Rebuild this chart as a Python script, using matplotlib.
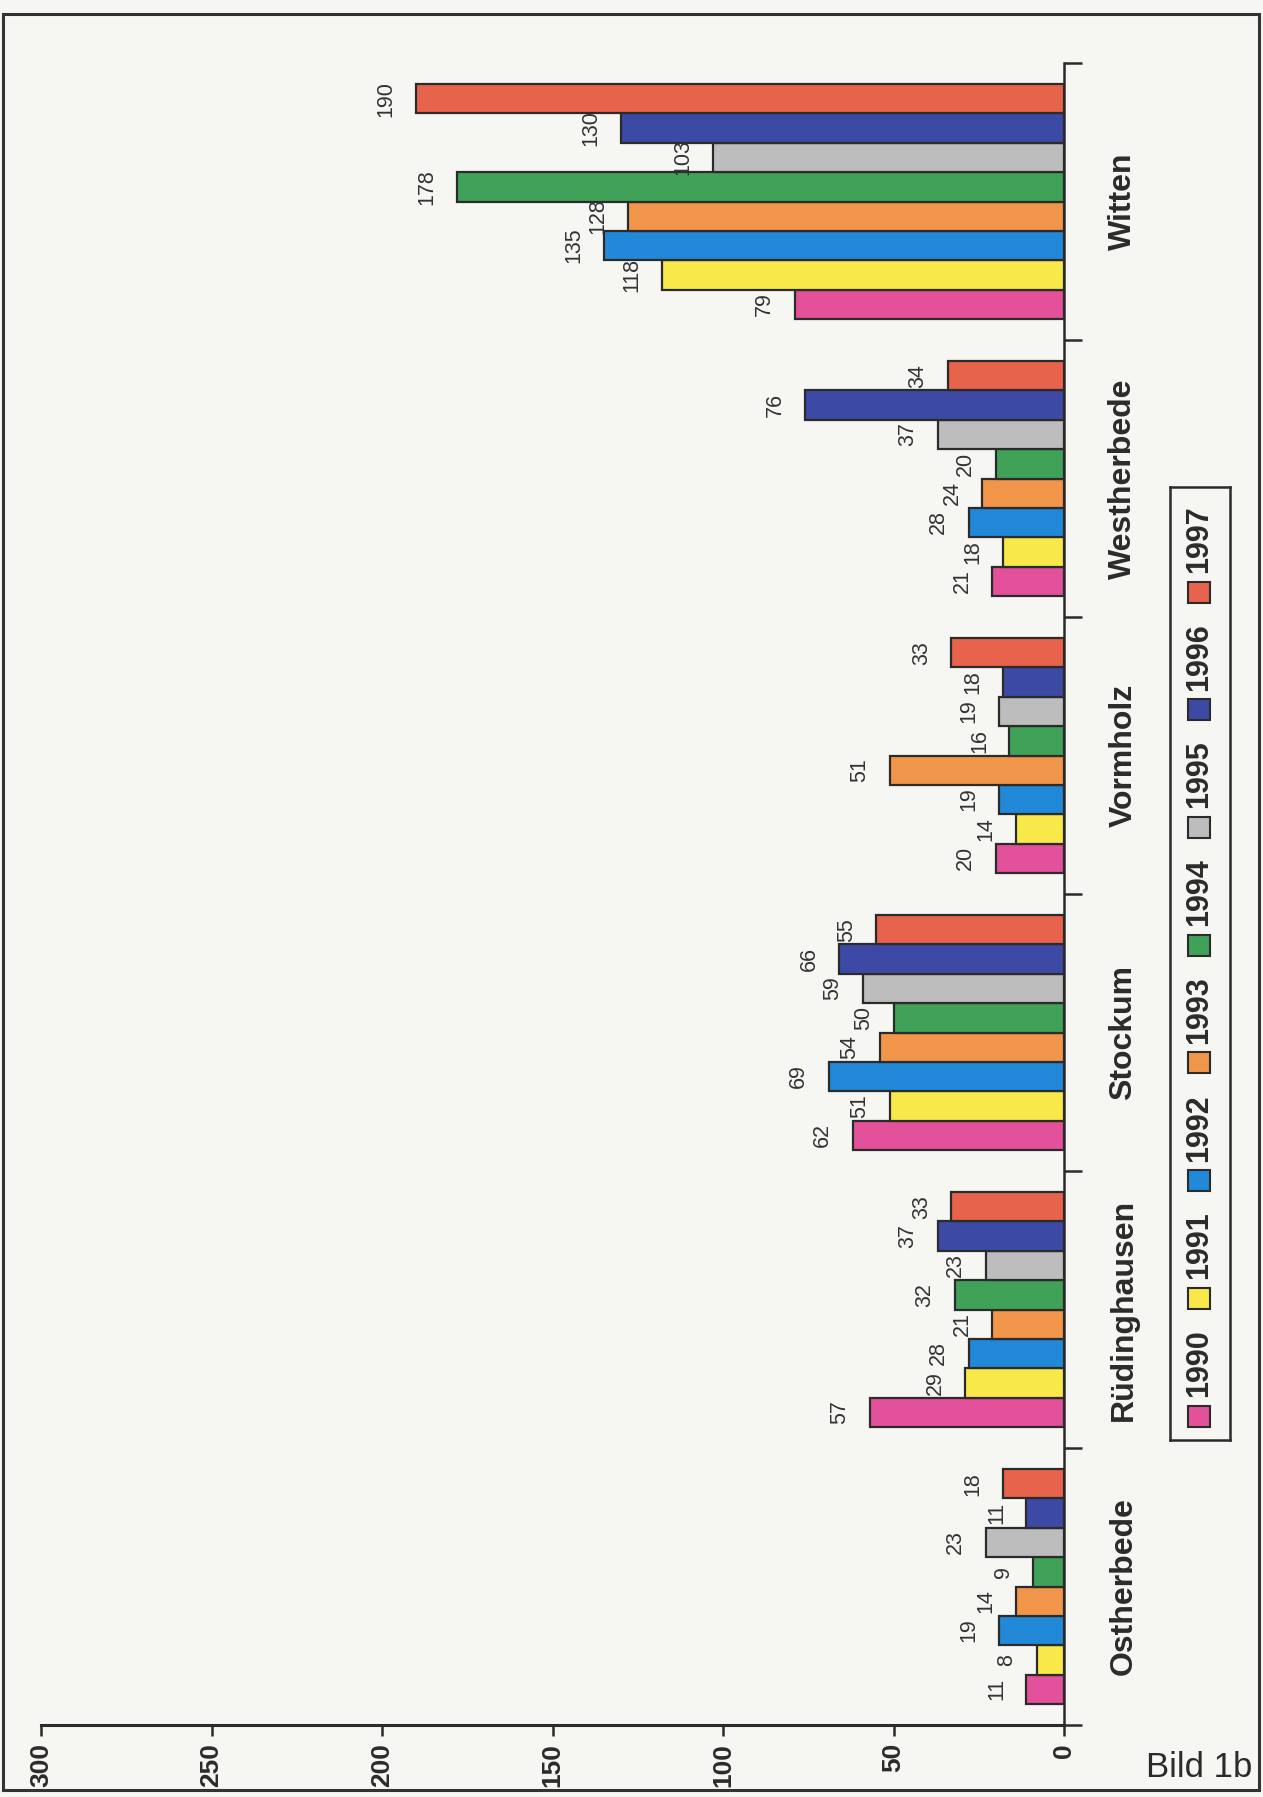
import numpy as np
import matplotlib
matplotlib.use("Agg")
import matplotlib.pyplot as plt
from matplotlib.patches import Rectangle

plt.rcParams['font.family'] = ['Liberation Sans', 'DejaVu Sans']

# Ortsteile (bottom to top) and years
orte = ['Ostherbede', 'Rüdinghausen', 'Stockum', 'Vormholz', 'Westherbede', 'Witten']
jahre = ['1990', '1991', '1992', '1993', '1994', '1995', '1996', '1997']

# values per year, one entry per Ortsteil
v1990 = [11, 57, 62, 20, 21, 79]
v1991 = [8, 29, 51, 14, 18, 118]
v1992 = [19, 28, 69, 19, 28, 135]
v1993 = [14, 21, 54, 51, 24, 128]
v1994 = [9, 32, 50, 16, 20, 178]
v1995 = [23, 23, 59, 19, 37, 103]
v1996 = [11, 37, 66, 18, 76, 130]
v1997 = [18, 33, 55, 33, 34, 190]
werte = [v1990, v1991, v1992, v1993, v1994, v1995, v1996, v1997]

farben = ['#E2519A', '#F8E84A', '#2288D8', '#F0954A',
          '#3FA258', '#BDBDBD', '#3C4AA6', '#E8634C']

paper = '#F6F6F3'
ink = '#2b2b2b'

W, H = 1263, 1797
fig = plt.figure(figsize=(W / 100, H / 100), dpi=100)
fig.patch.set_facecolor(paper)

# main plot area (value axis runs right to left, categories bottom to top)
ax = fig.add_axes([41 / W, 1 - 1725 / H, (1064 - 41) / W, (1725 - 63) / H])
ax.set_facecolor('none')

bar_h = 0.106
n = len(jahre)
y0 = np.arange(len(orte))
for j, (vals, col) in enumerate(zip(werte, farben)):
    yy = y0 + (j - (n - 1) / 2) * bar_h
    ax.barh(yy, vals, height=bar_h, color=col, edgecolor=ink, linewidth=1.6, zorder=2)
    for y, v in zip(yy, vals):
        ax.annotate(str(v), xy=(v, y), xytext=(-14, 0), textcoords='offset points',
                    rotation=90, ha='right', va='center', fontsize=15.5, color='#333333')

ax.set_xlim(300, 0)
ax.set_ylim(-0.5, len(orte) - 0.5)

ax.set_xticks(np.arange(0, 301, 50), labels=[str(t) for t in range(0, 301, 50)],
              fontweight='bold', fontsize=19, color=ink)
ax.tick_params(axis='x', length=8, width=1.8, direction='out', labelrotation=90,
               pad=5, color=ink)

ax.yaxis.tick_right()
ax.set_yticks(np.arange(-0.5, len(orte), 1.0), labels=[''] * (len(orte) + 1))
ax.set_yticks(y0, labels=orte, minor=True, rotation=90, va='center',
              fontweight='bold', fontsize=23, color=ink)
ax.tick_params(axis='y', which='major', length=13, width=1.8, direction='out', color=ink)
ax.tick_params(axis='y', which='minor', length=0, pad=32)

for s in ['top', 'left']:
    ax.spines[s].set_visible(False)
ax.spines['right'].set_linewidth(1.8)
ax.spines['bottom'].set_linewidth(2.2)
ax.spines['right'].set_color(ink)
ax.spines['bottom'].set_color(ink)

# legend box, drawn by hand so the entries can stand upright
lax = fig.add_axes([1170 / W, 1 - 1440 / H, 60 / W, (1440 - 487) / H])
lax.set_facecolor('none')
lax.set_xlim(0, 60)
lax.set_ylim(953, 0)
lax.set_xticks([])
lax.set_yticks([])
for s in lax.spines.values():
    s.set_linewidth(1.8)
    s.set_color(ink)
for k, (jahr, col) in enumerate(zip(jahre, farben)):
    yc = 929 - k * 117.7
    lax.add_patch(Rectangle((18, yc - 10.5), 22, 21, facecolor=col, edgecolor=ink, linewidth=1.5))
    lax.text(29, yc - 19, jahr, rotation=90, ha='center', va='bottom',
             fontsize=22, fontweight='bold', color=ink)

fig.text(1252 / W, 1 - 1777 / H, 'Bild 1b', ha='right', va='baseline', fontsize=25, color=ink)

# page frame
fig.patches.append(Rectangle((3 / W, 1 - 1790 / H), (1259 - 3) / W, (1790 - 14) / H,
                             transform=fig.transFigure, fill=False, edgecolor='#333333',
                             linewidth=2.2))

fig.savefig('out.png', dpi=100, facecolor=paper)
